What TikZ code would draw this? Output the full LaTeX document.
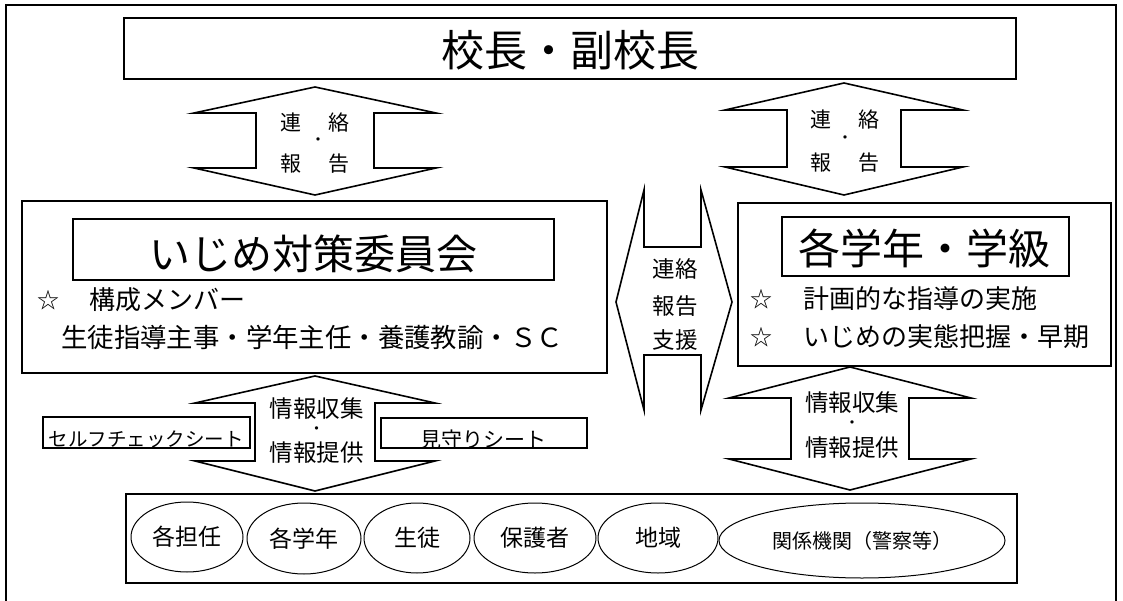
\documentclass[tikz,border=0pt]{standalone}
\usepackage{fontspec}
\setmainfont{Noto Sans CJK JP}
\usetikzlibrary{shapes.geometric}
\newcommand\fs[1]{\fontsize{#1}{#1}\selectfont}
% up-down block arrow: #1 cx, #2 top tip y, #3 top base y, #4 bottom base y, #5 bottom tip y, #6 head half width, #7 shaft half width
\newcommand\udarrow[7]{%
  \draw[arrowshape] (#1,#2) -- (#1+#6,#3) -- (#1+#7,#3) -- (#1+#7,#4) -- (#1+#6,#4)
    -- (#1,#5) -- (#1-#6,#4) -- (#1-#7,#4) -- (#1-#7,#3) -- (#1-#6,#3) -- cycle;}
\tikzset{
  box/.style={draw, line width=2pt, inner sep=0pt},
  smallbox/.style={draw, line width=1.8pt, inner sep=0pt},
  oval/.style={draw, ellipse, line width=1pt, inner sep=0pt},
  arrowshape/.style={draw, line width=1.6pt, line join=miter},
  txt/.style={inner sep=0pt, text=black},
  dot/.style={inner sep=0pt, text=black, font=\fs{16}},
}
\begin{document}
\begin{tikzpicture}[x=1pt,y=-1pt]
\useasboundingbox (0,0) rectangle (1123,601);
\fill[white] (0,0) rectangle (1123,601);
% outer frame
\draw[line width=2pt] (6,601) -- (6,5) -- (1116,5) -- (1116,601);

% top box
\node[box, minimum width=892pt, minimum height=61pt] (top) at (570,48.5) {};
\node[txt, font=\fs{43}] (toptxt) at (570,50) {校長・副校長};

% left committee box
\node[box, minimum width=585pt, minimum height=172pt] (lbox) at (314.5,287) {};
\node[box, minimum width=481pt, minimum height=61pt] (ltitle) at (313.5,249.5) {};
\node[txt, font=\fs{41}] (ltitletxt) at (313,254) {いじめ対策委員会};
\node[txt, font=\fs{22}] (lstar) at (48,300) {☆};
\node[txt, font=\fs{26}, anchor=west] (lmem) at (89,300) {構成メンバー};
\node[txt, font=\fs{26.4}, anchor=west] (lmem2) at (61,337) {生徒指導主事・学年主任・養護教諭・ＳＣ};

% right grade box
\node[box, minimum width=373pt, minimum height=163pt] (rbox) at (924.5,284.5) {};
\node[box, minimum width=287pt, minimum height=59pt] (rtitle) at (925.5,246.5) {};
\node[txt, font=\fs{42}] (rtitletxt) at (924,248.5) {各学年・学級};
\node[txt, font=\fs{22}] (rstar1) at (761,299) {☆};
\node[txt, font=\fs{26}, anchor=west] (rl1) at (803,299) {計画的な指導の実施};
\node[txt, font=\fs{22}] (rstar2) at (761,337) {☆};
\node[txt, font=\fs{26}, anchor=west] (rl2) at (803,337) {いじめの実態把握・早期};

% upper arrows
\udarrow{315}{87}{113}{168}{195}{121}{59}
\node[txt, font=\fs{21}] (la1) at (315,122.5) {連\hspace{27pt}絡};
\node[dot] (la2) at (318,142) {・};
\node[txt, font=\fs{21}] (la3) at (315,164) {報\hspace{27pt}告};

\udarrow{844}{83}{110}{167}{195}{119}{57}
\node[txt, font=\fs{21}] (ra1) at (845,120) {連\hspace{27pt}絡};
\node[dot] (ra2) at (845,140) {・};
\node[txt, font=\fs{21}] (ra3) at (845,163) {報\hspace{27pt}告};

% middle left-right arrow
\draw[arrowshape] (644,190) -- (644,247) -- (701,247) -- (701,190) -- (732,302)
  -- (701,410) -- (701,355) -- (644,355) -- (644,410) -- (616,302) -- cycle;
\node[txt, font=\fs{22.5}] (m1) at (675,269) {連絡};
\node[txt, font=\fs{22.5}] (m2) at (675,306) {報告};
\node[txt, font=\fs{22.5}] (m3) at (675,340) {支援};

% lower arrows
\udarrow{315}{376}{403}{461}{491}{120}{60}
\node[txt, font=\fs{23.5}] (lb1) at (316.5,409) {情報収集};
\node[dot] (lb2) at (316.5,430.5) {・};
\node[txt, font=\fs{23.5}] (lb3) at (316.5,453) {情報提供};

\udarrow{850}{367}{398}{459}{490}{121}{59}
\node[txt, font=\fs{23.5}] (rb1) at (852,403) {情報収集};
\node[dot] (rb2) at (852,424.5) {・};
\node[txt, font=\fs{23.5}] (rb3) at (852,448) {情報提供};

% sheets
\node[smallbox, minimum width=207pt, minimum height=31pt] (self) at (146.5,432.5) {};
\node[txt, font=\fs{19.5}] (selftxt) at (146,439) {セルフチェックシート};
\node[smallbox, minimum width=206pt, minimum height=30pt] (mima) at (484,433) {};
\node[txt, font=\fs{21}] (mimatxt) at (483,440) {見守りシート};

% bottom box with ellipses
\node[box, minimum width=891pt, minimum height=89pt] (bbox) at (571.5,538.5) {};
\node[oval, minimum width=112pt, minimum height=70pt, font=\fs{23}] (e1) at (187,537) {各担任};
\node[oval, minimum width=114pt, minimum height=71pt, font=\fs{23}] (e2) at (304,538.5) {各学年};
\node[oval, minimum width=106pt, minimum height=70pt, font=\fs{23}] (e3) at (417,538) {生徒};
\node[oval, minimum width=122pt, minimum height=70pt, font=\fs{23}] (e4) at (535,538) {保護者};
\node[oval, minimum width=120pt, minimum height=70pt, font=\fs{23}] (e5) at (658,538) {地域};
\node[oval, minimum width=286pt, minimum height=75pt, font=\fs{20}] (e6) at (862,540.5) {関係機関（警察等）};
\end{tikzpicture}
\end{document}
